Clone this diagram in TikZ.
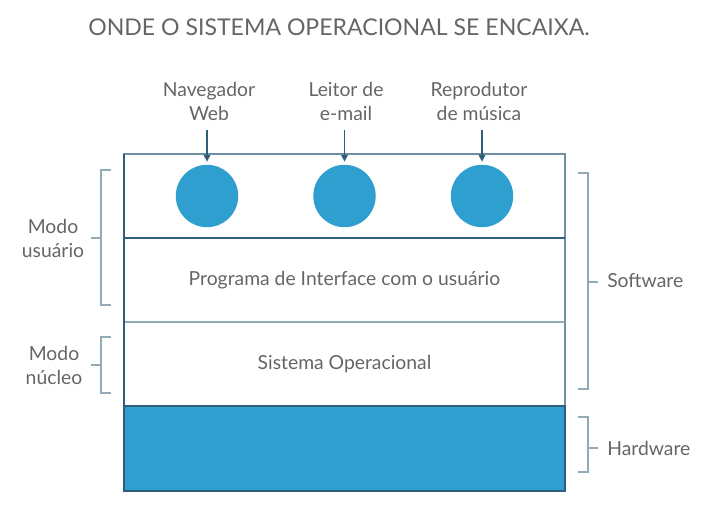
\documentclass[tikz,border=0pt]{standalone}
\usepackage{fontspec}
\setmainfont{Lato}
\usepackage{xcolor}
\usetikzlibrary{arrows.meta,positioning}
\definecolor{txtgray}{HTML}{656565}
\definecolor{framecol}{HTML}{6E8FA3}
\definecolor{darkline}{HTML}{2F5E7A}
\definecolor{lightline}{HTML}{93AAB8}
\definecolor{bubble}{HTML}{2E9FCE}
\begin{document}
\begin{tikzpicture}[
       x = 0.75pt, y = -0.75pt,
     node distance = 0pt,
TxtStyle/.style={text=txtgray, font=\fontsize{14.5}{18}\selectfont, align=center, inner sep=0pt},
LayerStyle/.style={draw=framecol, line width=0.8pt, minimum width=330.75pt,
                minimum height=63pt, outer sep=0pt, inner sep=0pt, TxtStyle},
BubbleStyle/.style={circle, fill=bubble, minimum size=46.8pt, inner sep=0pt},
BracketStyle/.style={draw=lightline, line width=1.4pt},
  ]
\useasboundingbox (0,0) rectangle (710,506);
\node [TxtStyle, font=\fontsize{17.3}{20}\selectfont] (title) at (339,27) {ONDE O SISTEMA OPERACIONAL SE ENCAIXA.};
% layers
\node [LayerStyle] (apps) at (344.5,196) {};
  \node [LayerStyle, below=of apps] (ui) {Programa de Interface com o usuário};
  \node [LayerStyle, below=of ui] (so) {Sistema Operacional};
  \node [LayerStyle, below=of so, fill=bubble, draw=darkline, minimum height=63.75pt] (hw) {};
\draw[darkline, line width=0.9pt] (ui.north west) -- (ui.north east);
\draw[lightline, line width=0.9pt] (so.north west) -- (so.north east);
\draw[darkline, line width=0.9pt] (apps.north west) -- (hw.south west);
% programs
\node [BubbleStyle] (c1) at (207,196) {};
  \node [BubbleStyle] (c2) at (344.5,196) {};
  \node [BubbleStyle] (c3) at (482,196) {};
\node [TxtStyle] (nav) at (209,101) {Navegador\\Web};
  \node [TxtStyle] (mail) at (346,101) {Leitor de\\e-mail};
  \node [TxtStyle] (music) at (479,101) {Reprodutor\\de música};
\begin{scope}[-{Triangle[length=5pt, width=5pt]}, darkline, line width=1pt]
  \draw (c1.north |- nav.south) [shorten <=7pt, shorten >=2.2pt] -- (c1.north);
  \draw (c2.north |- mail.south) [shorten <=7pt, shorten >=2.2pt] -- (c2.north);
  \draw (c3.north |- music.south) [shorten <=7pt, shorten >=2.2pt] -- (c3.north);
\end{scope}
% brackets
\draw[BracketStyle] (111,170) -- (101,170) -- (101,305) -- (111,305) (101,238) -- (91,238);
\draw[BracketStyle] (111,337) -- (101,337) -- (101,393) -- (111,393) (101,365) -- (91,365);
\draw[BracketStyle] (578,173) -- (588,173) -- (588,389) -- (578,389) (588,282) -- (598,282);
\draw[BracketStyle] (578,417) -- (588,417) -- (588,472) -- (578,472) (588,448) -- (598,448);
\node [TxtStyle] (user) at (53,238) {Modo\\usuário};
\node [TxtStyle] (kernel) at (54,365) {Modo\\núcleo};
\node [TxtStyle, anchor=west] (soft) at (607,281) {Software};
\node [TxtStyle, anchor=west] (hard) at (607,448) {Hardware};
\end{tikzpicture}
\end{document}
